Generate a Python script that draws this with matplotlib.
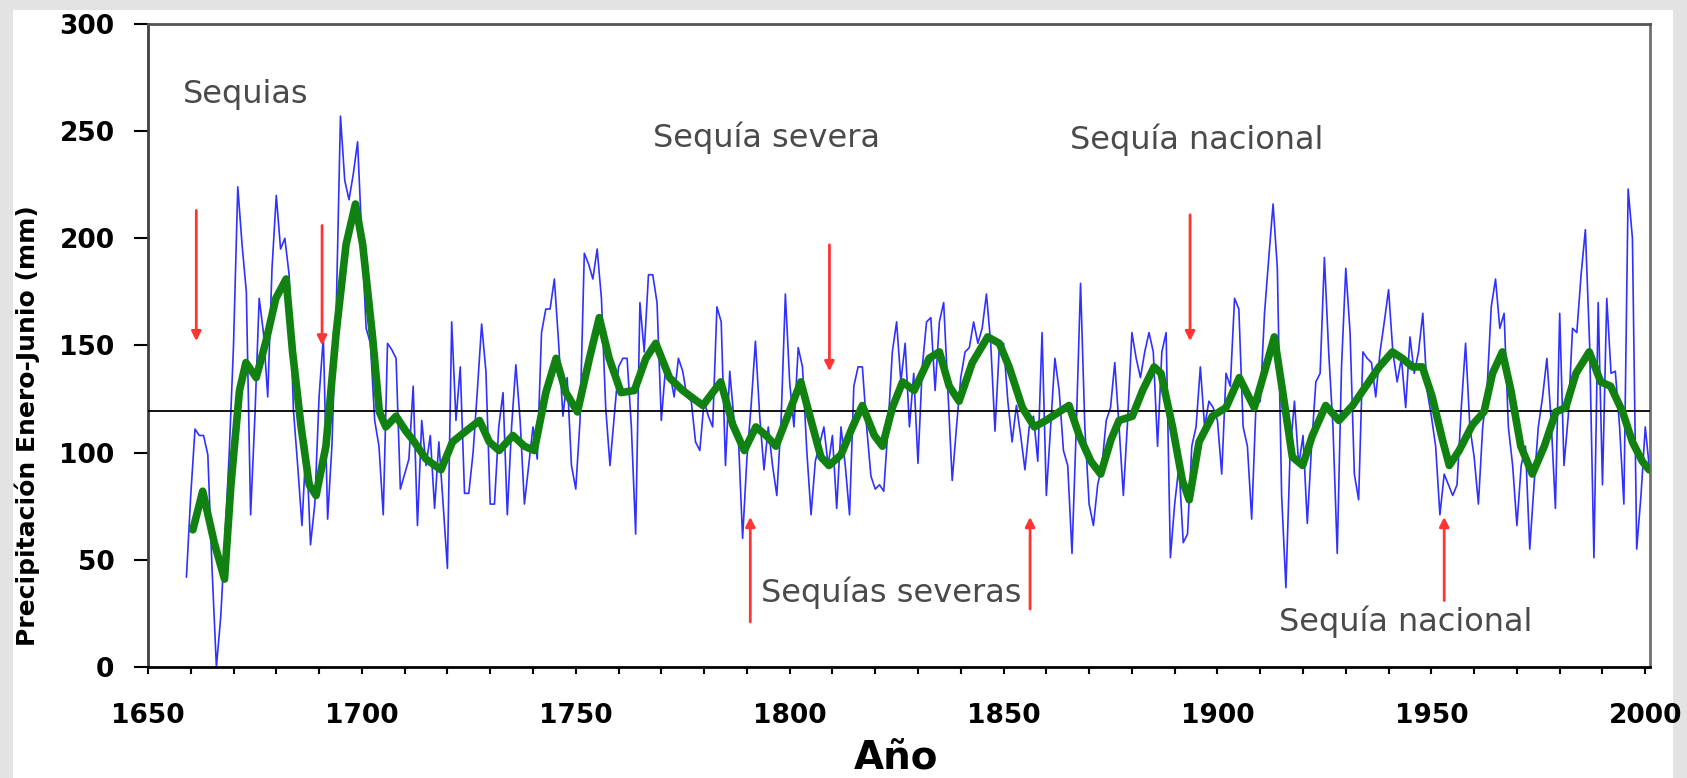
import numpy as np
import matplotlib.pyplot as plt
from matplotlib.patches import Rectangle

# precipitacion enero-junio, un valor por año desde 1659
start_year = 1659
precip = [
    42,                                                  # 1659
    80, 111, 108, 108, 99, 45, 0, 23, 60, 100,           # 1660s
    150, 224, 197, 175, 71, 117, 172, 156, 126, 186,     # 1670s
    220, 195, 200, 183, 120, 94, 66, 105, 57, 76,        # 1680s
    126, 154, 69, 103, 165, 257, 227, 218, 230, 245,     # 1690s
    200, 158, 151, 115, 103, 71, 151, 148, 144, 83,      # 1700s
    90, 97, 131, 66, 115, 94, 108, 74, 105, 76,          # 1710s
    46, 161, 115, 140, 81, 81, 100, 129, 160, 138,       # 1720s
    76, 76, 112, 128, 71, 112, 141, 115, 76, 94,         # 1730s
    112, 97, 156, 167, 167, 181, 151, 117, 135, 94,      # 1740s
    83, 115, 193, 188, 181, 195, 172, 121, 94, 117,      # 1750s
    140, 144, 144, 112, 62, 170, 147, 183, 183, 170,     # 1760s
    115, 140, 137, 126, 144, 138, 126, 124, 105, 101,    # 1770s
    124, 117, 112, 168, 161, 94, 138, 115, 108, 60,      # 1780s
    97, 122, 152, 117, 92, 112, 94, 80, 115, 174,        # 1790s
    133, 112, 149, 140, 101, 71, 96, 104, 112, 94,       # 1800s
    108, 74, 112, 94, 71, 131, 140, 140, 112, 89,        # 1810s
    83, 85, 82, 112, 147, 161, 133, 151, 112, 137,       # 1820s
    95, 140, 161, 163, 129, 161, 170, 129, 87, 112,      # 1830s
    135, 147, 149, 161, 151, 158, 174, 151, 110, 149,    # 1840s
    151, 124, 105, 122, 108, 92, 112, 117, 96, 156,      # 1850s
    80, 112, 144, 129, 101, 94, 53, 112, 179, 112,       # 1860s
    76, 66, 85, 94, 115, 121, 142, 112, 80, 115,         # 1870s
    156, 144, 135, 147, 156, 147, 103, 147, 156, 51,     # 1880s
    76, 94, 58, 62, 103, 112, 140, 112, 124, 121,        # 1890s
    115, 90, 137, 131, 172, 167, 112, 103, 69, 122,      # 1900s
    124, 165, 191, 216, 186, 80, 37, 101, 124, 94,       # 1910s
    108, 67, 103, 133, 137, 191, 147, 112, 53, 140,      # 1920s
    186, 156, 90, 78, 147, 144, 142, 126, 147, 161,      # 1930s
    176, 147, 133, 144, 121, 154, 137, 147, 165, 129,    # 1940s
    117, 103, 71, 90, 85, 80, 85, 121, 151, 112,         # 1950s
    98, 76, 112, 129, 168, 181, 158, 165, 112, 94,       # 1960s
    66, 94, 103, 55, 85, 112, 126, 144, 115, 74,         # 1970s
    165, 94, 117, 158, 156, 183, 204, 150, 51, 170,      # 1980s
    85, 172, 137, 138, 112, 76, 223, 200, 55, 80,        # 1990s
    112, 92,                                             # 2000s
]

# curva suavizada (verde)
green_years = [1660.5, 1662.8, 1665.5, 1667.9, 1669.4, 1671.4, 1672.9, 1675.3,
               1677.6, 1679.9, 1682.3, 1683.8, 1685.8, 1687.7, 1689.3, 1691.6,
               1694.0, 1696.3, 1698.5, 1700.2, 1702.5, 1704.1, 1705.6, 1708.0,
               1710.3, 1711.9, 1715.0, 1718.5, 1721.2, 1724.3, 1727.5, 1729.8,
               1732.1, 1735.3, 1738.0, 1740.3, 1743.0, 1745.4, 1747.7, 1750.4,
               1753.2, 1755.5, 1757.8, 1760.6, 1763.7, 1766.4, 1768.7, 1771.9,
               1775.0, 1779.7, 1783.9, 1786.7, 1789.4, 1792.1, 1794.5, 1796.8,
               1799.9, 1802.6, 1805.0, 1807.3, 1809.2, 1812.0, 1814.7, 1817.0,
               1819.8, 1821.7, 1824.0, 1826.4, 1829.1, 1832.6, 1835.0, 1837.3,
               1839.6, 1842.7, 1846.3, 1849.0, 1851.3, 1854.4, 1857.2, 1859.9,
               1863.0, 1865.3, 1867.7, 1870.4, 1872.7, 1875.1, 1877.0, 1880.1,
               1882.5, 1885.2, 1886.8, 1889.5, 1891.8, 1893.4, 1895.7, 1898.8,
               1902.0, 1905.1, 1908.6, 1910.9, 1913.3, 1915.2, 1917.5, 1919.9,
               1922.2, 1925.3, 1928.4, 1931.6, 1934.7, 1937.8, 1940.9, 1943.2,
               1945.6, 1947.9, 1950.2, 1952.6, 1954.2, 1956.5, 1959.6, 1962.3,
               1964.3, 1966.6, 1968.6, 1970.9, 1973.6, 1976.4, 1979.1, 1981.4,
               1983.8, 1986.9, 1989.6, 1991.9, 1994.7, 1997.0, 1999.3, 2000.9]
green_vals = [64, 82, 58, 41, 85, 129, 142, 135,
              152, 172, 181, 147, 112, 85, 80, 103,
              156, 197, 216, 197, 154, 119, 112, 117,
              110, 106, 97, 92, 105, 110, 115, 105,
              101, 108, 103, 101, 128, 144, 128, 119,
              144, 163, 144, 128, 129, 144, 151, 135,
              129, 122, 133, 113, 101, 112, 108, 103,
              119, 133, 115, 98, 94, 99, 112, 122,
              108, 103, 121, 133, 129, 144, 147, 131,
              124, 142, 154, 151, 140, 121, 112, 115,
              119, 122, 108, 96, 90, 106, 115, 117,
              129, 140, 137, 112, 87, 78, 105, 117,
              121, 135, 121, 137, 154, 129, 98, 94,
              108, 122, 115, 122, 131, 140, 147, 144,
              140, 140, 126, 106, 94, 101, 113, 119,
              137, 147, 129, 103, 90, 103, 119, 121,
              137, 147, 133, 131, 119, 105, 96, 92]

mean_precip = 119.5

notes = ["Sequias", "Sequía severa", "Sequía nacional", "Sequías severas", "Sequía nacional"]
note_x = [1658.1, 1768.1, 1865.6, 1793.4, 1914.5]
note_y = [266.9, 246.8, 245.9, 34.5, 21.0]

# flechas: (año, desde, hasta)
arrow_x = [1661.3, 1690.7, 1809.3, 1893.6, 1790.8, 1856.2, 1953.0]
arrow_from = [213, 206, 197, 211, 21, 27, 31]
arrow_to = [152, 150, 138, 152, 70, 70, 70]

years = np.arange(start_year, start_year + len(precip))

fig = plt.figure(figsize=(16.87, 7.78), dpi=100, facecolor='#e3e3e3')
fig.patches.append(Rectangle((13 / 1687, 0), (1673 - 13) / 1687, 1 - 10 / 778,
                             transform=fig.transFigure, facecolor='white',
                             edgecolor='none', zorder=-10))
ax = fig.add_axes([0.0877, 0.1427, 0.8906, 0.8265])
ax.set_facecolor('white')

ax.plot(years, precip, color='#3030ff', lw=1.2, zorder=2)
ax.axhline(mean_precip, color='black', lw=1.3, zorder=3)
ax.plot(green_years, green_vals, color='#118211', lw=5.5, zorder=4,
        solid_joinstyle='round', solid_capstyle='round')

for xa, y0, y1 in zip(arrow_x, arrow_from, arrow_to):
    ax.annotate('', xy=(xa, y1), xytext=(xa, y0),
                arrowprops=dict(arrowstyle='-|>', color='#ff3535', lw=2,
                                mutation_scale=14, shrinkA=0, shrinkB=0),
                zorder=5)

for txt, xt, yt in zip(notes, note_x, note_y):
    ax.text(xt, yt, txt, fontsize=23, color='#4a4a4a', ha='left', va='center',
            zorder=6)

ax.set_xlim(1650, 2001.2)
ax.set_ylim(0, 300)
ax.set_xticks(np.arange(1650, 2001, 50))
ax.set_xticks(np.arange(1650, 2001, 10), minor=True)
ax.set_yticks(np.arange(0, 301, 50))
ax.tick_params(axis='x', which='both', direction='out', length=5, width=1.5,
               pad=21, labelsize=19)
ax.tick_params(axis='y', direction='out', length=10, width=1.5, pad=14,
               labelsize=19)
for lbl in ax.get_xticklabels() + ax.get_yticklabels():
    lbl.set_fontweight('bold')

ax.spines['left'].set_color('#404040')
ax.spines['left'].set_linewidth(2)
ax.spines['bottom'].set_color('black')
ax.spines['bottom'].set_linewidth(2)
ax.spines['top'].set_color('#555555')
ax.spines['top'].set_linewidth(2)
ax.spines['right'].set_color('#707070')
ax.spines['right'].set_linewidth(2)

ax.set_ylabel('Precipitación Enero-Junio (mm)', fontsize=18, fontweight='bold')
ax.yaxis.set_label_coords(-0.072, 0.376)
ax.set_xlabel('Año', fontsize=28, fontweight='bold')
ax.xaxis.set_label_coords(0.498, -0.113)

fig.savefig('out.png', dpi=100, facecolor=fig.get_facecolor())
